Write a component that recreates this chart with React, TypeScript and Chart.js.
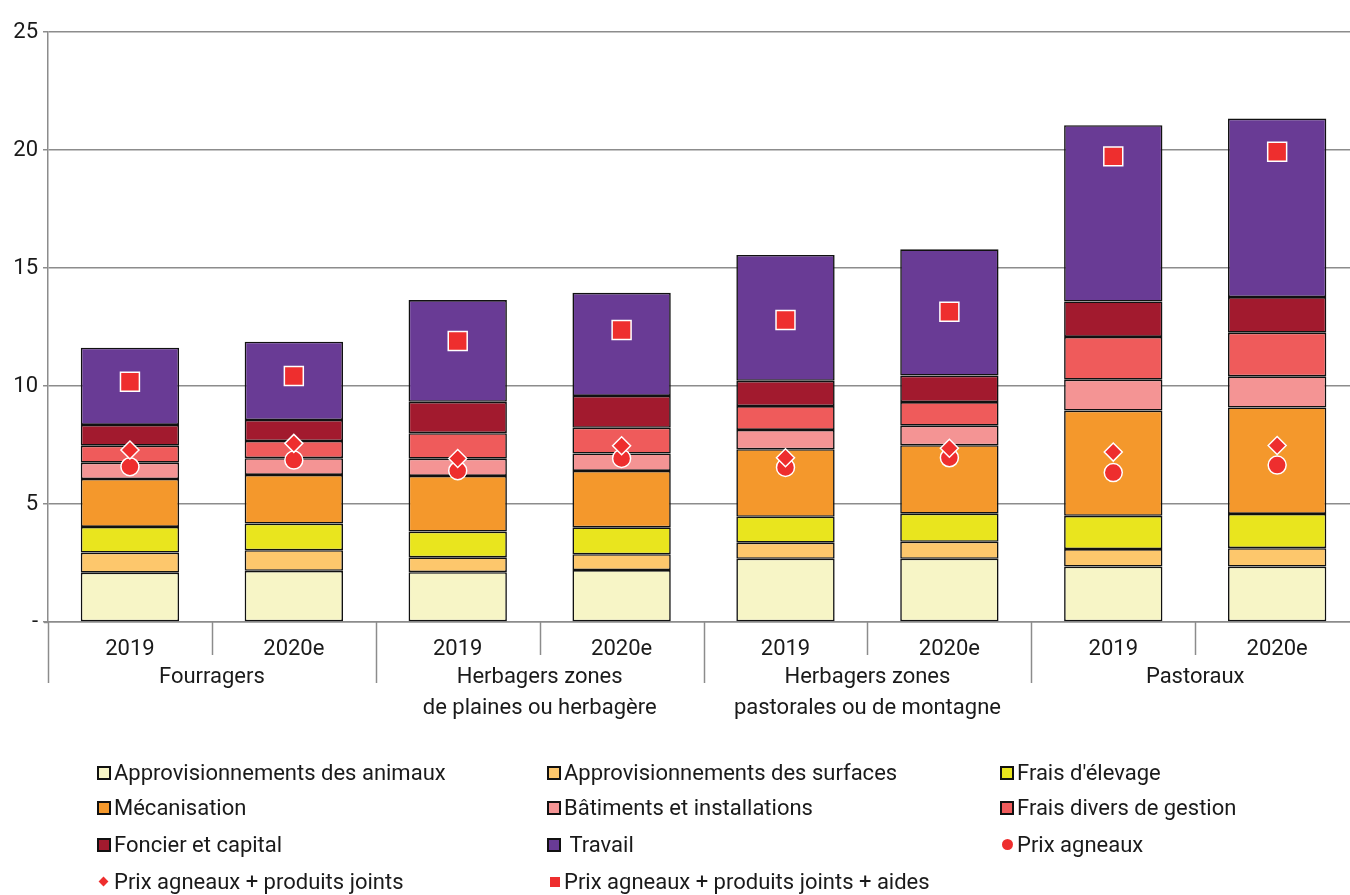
import React, { useEffect, useRef } from "react";
import { Chart, registerables } from "chart.js";

Chart.register(...registerables);

const FONT = "Roboto, 'Liberation Sans', sans-serif";
const TEXT = "#1a1a1a";
const GRID = "#8c8c8c";
const CANVAS_W = 1374;
const CANVAS_H = 895;

const years = ["2019", "2020e", "2019", "2020e", "2019", "2020e", "2019", "2020e"];
const groups = [
  ["Fourragers"],
  ["Herbagers zones", "de plaines ou herbagère"],
  ["Herbagers zones", "pastorales ou de montagne"],
  ["Pastoraux"],
];
const yTicks = [0, 5, 10, 15, 20, 25];

const approAnimaux = [2.09, 2.17, 2.11, 2.2, 2.68, 2.68, 2.35, 2.35];
const approSurfaces = [0.85, 0.87, 0.63, 0.67, 0.68, 0.72, 0.74, 0.78];
const fraisElevage = [1.09, 1.13, 1.09, 1.14, 1.1, 1.19, 1.41, 1.45];
const mecanisation = [2.03, 2.06, 2.36, 2.39, 2.86, 2.9, 4.46, 4.51];
const batiments = [0.69, 0.71, 0.73, 0.74, 0.82, 0.83, 1.31, 1.32];
const fraisDivers = [0.72, 0.73, 1.08, 1.09, 1.01, 1.0, 1.81, 1.85];
const foncier = [0.88, 0.89, 1.33, 1.35, 1.07, 1.12, 1.5, 1.51];
const travail = [3.27, 3.32, 4.31, 4.37, 5.33, 5.35, 7.47, 7.56];

const prixAgneaux = [6.58, 6.86, 6.41, 6.93, 6.55, 6.96, 6.33, 6.65];
const prixJoints = [7.29, 7.57, 6.93, 7.47, 6.96, 7.36, 7.2, 7.48];
const prixAides = [10.18, 10.42, 11.91, 12.37, 12.8, 13.15, 19.73, 19.93];

const barSeries = [
  { label: "Approvisionnements des animaux", data: approAnimaux, color: "#F7F5C6" },
  { label: "Approvisionnements des surfaces", data: approSurfaces, color: "#FDC76C" },
  { label: "Frais d'élevage", data: fraisElevage, color: "#E9E51E" },
  { label: "Mécanisation", data: mecanisation, color: "#F4982C" },
  { label: "Bâtiments et installations", data: batiments, color: "#F49494" },
  { label: "Frais divers de gestion", data: fraisDivers, color: "#EF5B5B" },
  { label: "Foncier et capital", data: foncier, color: "#A21A2E" },
  { label: "Travail", data: travail, color: "#693B95" },
];
const RED = "#EE2E2E";

const groupPlugin = {
  id: "groupAxis",
  afterDraw(chart: any) {
    const { ctx, chartArea } = chart;
    const x = chart.scales.x;
    const step = x.getPixelForValue(1) - x.getPixelForValue(0);
    const start = x.getPixelForValue(0) - step / 2;
    ctx.save();
    ctx.strokeStyle = GRID;
    ctx.lineWidth = 1.5;
    ctx.beginPath();
    ctx.moveTo(chartArea.left - 4, chartArea.bottom + 0.5);
    ctx.lineTo(chartArea.left, chartArea.bottom + 0.5);
    ctx.stroke();
    for (let i = 0; i <= years.length; i++) {
      const px = Math.round(start + i * step) + 0.5;
      const len = i % 2 === 0 ? 61 : 33;
      ctx.beginPath();
      ctx.moveTo(px, chartArea.bottom);
      ctx.lineTo(px, chartArea.bottom + len);
      ctx.stroke();
    }
    ctx.fillStyle = TEXT;
    ctx.font = `22px ${FONT}`;
    ctx.textAlign = "center";
    ctx.textBaseline = "middle";
    groups.forEach((lines, g) => {
      const cx = (x.getPixelForValue(2 * g) + x.getPixelForValue(2 * g + 1)) / 2;
      lines.forEach((t, j) => ctx.fillText(t, cx, chartArea.bottom + 55 + j * 31));
    });
    ctx.restore();
  },
};

type LegendItem = { label: string; kind: "box" | "circle" | "diamond" | "square"; color: string };
const legendItems: LegendItem[] = [
  ...barSeries.map((s) => ({ label: s.label, kind: "box" as const, color: s.color })),
  { label: "Prix agneaux", kind: "circle", color: RED },
  { label: "Prix agneaux + produits joints", kind: "diamond", color: RED },
  { label: "Prix agneaux + produits joints + aides", kind: "square", color: RED },
];
const legendCols = [97, 547, 1000];
const legendRows = [773, 808, 845, 882];

function Marker({ kind, color }: { kind: LegendItem["kind"]; color: string }) {
  if (kind === "box")
    return (
      <span
        style={{
          position: "absolute",
          left: 0,
          top: -7,
          width: 10,
          height: 10,
          background: color,
          border: "2px solid #111",
        }}
      />
    );
  if (kind === "circle")
    return (
      <span
        style={{ position: "absolute", left: 2, top: -6, width: 11, height: 11, borderRadius: "50%", background: color }}
      />
    );
  if (kind === "diamond")
    return (
      <span
        style={{ position: "absolute", left: 3, top: -4, width: 7, height: 7, background: color, transform: "rotate(45deg)" }}
      />
    );
  return <span style={{ position: "absolute", left: 3, top: -5, width: 10, height: 10, background: color }} />;
}

export default function App() {
  const ref = useRef<HTMLCanvasElement>(null);

  useEffect(() => {
    const datasets: any[] = barSeries.map((s) => ({
      type: "bar",
      label: s.label,
      data: s.data,
      backgroundColor: s.color,
      borderColor: "#111",
      borderWidth: 1.6,
      borderSkipped: false,
      barPercentage: 0.6,
      categoryPercentage: 1,
      stack: "costs",
      order: 10,
    }));
    const pt = (label: string, data: number[], style: string, radius: number, order: number) => ({
      type: "line",
      label,
      data,
      showLine: false,
      stack: label,
      pointStyle: style,
      pointRadius: radius,
      pointHoverRadius: radius,
      pointBackgroundColor: RED,
      pointBorderColor: "#ffffff",
      pointBorderWidth: 1.5,
      order,
    });
    datasets.push(pt("Prix agneaux", prixAgneaux, "circle", 9, 3));
    datasets.push(pt("Prix agneaux + produits joints", prixJoints, "rectRot", 9, 2));
    datasets.push(pt("Prix agneaux + produits joints + aides", prixAides, "rect", 13.4, 1));

    const chart = new Chart(ref.current!, {
      type: "bar",
      data: { labels: years, datasets },
      plugins: [groupPlugin],
      options: {
        animation: false,
        responsive: false,
        layout: { padding: { top: 32, left: 0, right: 0, bottom: 0 } },
        plugins: { legend: { display: false }, tooltip: { enabled: false } },
        scales: {
          x: {
            type: "category",
            stacked: true,
            offset: true,
            grid: { display: false },
            border: { display: true, color: GRID, width: 1.5 },
            ticks: { font: { size: 22, family: FONT }, color: TEXT, padding: 6, maxRotation: 0, autoSkip: false },
            afterFit: (s: any) => {
              s.height = CANVAS_H - 622;
            },
          },
          y: {
            stacked: true,
            min: 0,
            max: 25,
            afterBuildTicks: (s: any) => {
              s.ticks = yTicks.map((v) => ({ value: v }));
            },
            ticks: {
              font: { size: 22, family: FONT },
              color: TEXT,
              padding: 5,
              callback: (v: any) => (Number(v) === 0 ? "-" : String(v)),
            },
            grid: { color: GRID, lineWidth: 1.5, tickLength: 5 },
            border: { display: true, color: GRID, width: 1.5 },
            afterFit: (s: any) => {
              s.width = 48;
            },
          },
        },
      },
    });
    return () => chart.destroy();
  }, []);

  return (
    <div
      style={{
        position: "fixed",
        left: 0,
        top: 0,
        width: 1350,
        height: 895,
        overflow: "hidden",
        background: "#fff",
        fontFamily: FONT,
        color: TEXT,
      }}
    >
      <canvas
        ref={ref}
        width={CANVAS_W}
        height={CANVAS_H}
        style={{ position: "absolute", left: 0, top: 0, width: CANVAS_W, height: CANVAS_H }}
      />
      {legendItems.map((it, i) => {
        const col = i % 3;
        const row = Math.floor(i / 3);
        return (
          <div
            key={it.label}
            style={{
              position: "absolute",
              left: legendCols[col],
              top: legendRows[row],
              height: 0,
              whiteSpace: "nowrap",
            }}
          >
            <Marker kind={it.kind} color={it.color} />
            <span
              style={{
                position: "absolute",
                left: 17,
                top: -14,
                fontSize: 22,
                lineHeight: "28px",
              }}
            >
              {it.label === "Travail" ? "\u00a0Travail" : it.label}
            </span>
          </div>
        );
      })}
    </div>
  );
}
